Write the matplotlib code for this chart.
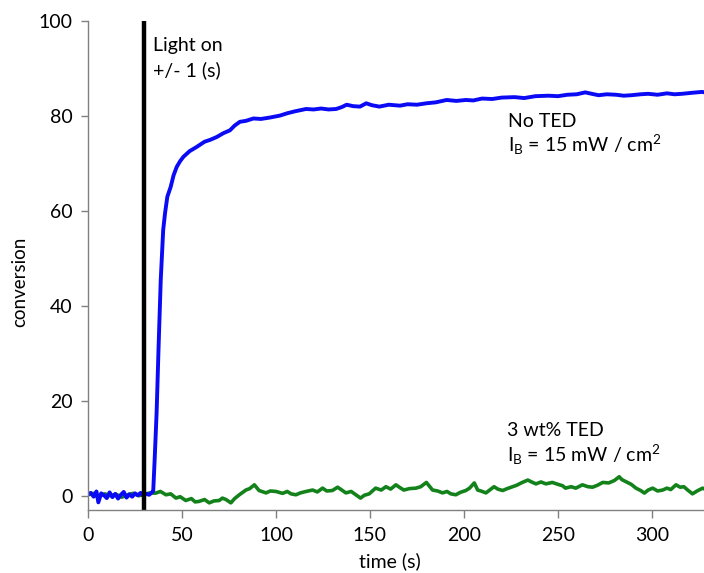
import matplotlib
matplotlib.use("Agg")
import matplotlib.pyplot as plt

plt.rc('font', family=['Lato', 'DejaVu Sans'])
plt.rc('font', size=14)
plt.rc('mathtext', default='regular')

# light switched on at t = 30 s
light_on = 30

# no TED, I_B = 15 mW/cm2
blue_t = [0, 1.5, 3, 4.5, 5.5, 7, 8.5, 10, 11.5, 13, 14.5, 16, 17.5, 19, 20.5,
          22, 23.5, 25, 26.5, 28, 29.5, 31, 32.5, 34, 34.7, 35.5, 36.5, 37.6,
          38.7, 40, 41, 42.2, 44, 45.5, 47.2, 49, 50.7, 54, 57.8, 62, 65, 68.5,
          72, 75.5, 78, 80.8, 84, 88, 92, 96.8, 102, 106, 110, 116, 120, 124,
          128, 132, 135, 137.6, 141, 144.7, 148, 151, 155, 160, 166, 170, 175,
          180, 185, 190.8, 196, 201, 205, 209.6, 215, 220, 227, 232, 238, 245,
          250, 255, 260, 264.5, 268, 271.6, 276, 281, 285, 289, 294, 298, 303,
          308, 312, 316, 321, 326.6, 328]
blue_c = [0.3, 0.6, -0.2, 0.9, -1.4, 0.5, 0.1, -0.5, 0.7, -0.3, 0.4, -0.6, 0.2,
          0.8, -0.4, 0.3, -0.2, 0.5, 0.1, 0.6, 0.0, 0.4, 0.2, 0.7, 1.0, 8.0,
          17.5, 32.0, 45.5, 56.0, 59.6, 63.0, 65.1, 67.5, 69.3, 70.5, 71.4, 72.6,
          73.5, 74.6, 75.0, 75.6, 76.4, 77.0, 78.0, 78.8, 79.0, 79.5, 79.4, 79.7,
          80.1, 80.6, 81.0, 81.5, 81.4, 81.6, 81.4, 81.5, 81.9, 82.4, 82.1, 82.0,
          82.7, 82.3, 82.0, 82.4, 82.2, 82.5, 82.4, 82.7, 82.9, 83.4, 83.2, 83.4,
          83.3, 83.7, 83.6, 83.9, 84.0, 83.8, 84.2, 84.3, 84.2, 84.5, 84.6, 85.0,
          84.7, 84.4, 84.6, 84.5, 84.3, 84.4, 84.6, 84.7, 84.5, 84.8, 84.6, 84.7,
          84.9, 85.1, 85.0]

# 3 wt% TED, I_B = 15 mW/cm2
green_t = [0, 3, 6, 9, 12, 15, 18, 21, 24, 27, 30, 33, 36, 38.5, 41.5, 44, 46.8,
           49, 52, 55, 57, 59, 62, 64.5, 67, 69.8, 71.5, 73.4, 76, 78, 80.5, 84,
           86, 88.5, 91, 94.7, 97, 100, 103.5, 106, 108, 110.6, 113, 116, 119.5,
           122, 124.8, 127, 130, 132.8, 135, 137.2, 140, 142.5, 145, 147, 149.6,
           153, 156, 158.5, 161, 163.8, 166, 168, 171, 174.5, 177, 180, 183.3,
           186, 188.6, 191, 193, 195.7, 198, 201, 203, 205.5, 207.3, 209, 211.7,
           214, 216, 218, 220.6, 223, 225.9, 228, 231, 234, 236, 238.3, 241,
           243.6, 247, 250, 252.5, 254, 257, 259.5, 263, 266, 268.4, 271, 273.8,
           277, 280, 282.6, 284, 286, 289, 291.5, 294, 296, 298, 300.4, 303,
           305.7, 308, 310, 312.8, 315, 317, 319, 321.6, 324, 327, 328]
green_c = [0.2, 0.5, -0.1, 0.4, 0.0, 0.3, -0.3, 0.2, 0.5, 0.0, 0.3, 0.6, 0.55,
           0.9, 0.2, 0.4, -0.5, -0.2, -1.0, -0.6, -1.3, -1.2, -0.8, -1.5, -1.1,
           -1.0, -0.5, -0.8, -1.5, -0.6, 0.2, 1.2, 1.5, 2.3, 1.1, 0.6, 1.0, 0.9,
           0.5, 0.9, 0.4, 0.2, 0.6, 0.9, 1.2, 0.8, 1.6, 1.0, 1.1, 1.8, 1.2, 0.6,
           0.9, 0.2, -0.5, 0.1, 0.4, 1.6, 1.2, 1.9, 1.4, 2.3, 1.7, 1.2, 1.5, 1.6,
           1.9, 2.8, 1.2, 1.0, 0.6, 0.9, 0.4, 0.2, 0.7, 1.1, 1.6, 2.7, 1.2, 1.0,
           0.6, 1.3, 1.9, 1.4, 1.1, 1.5, 1.9, 2.2, 2.8, 3.3, 2.9, 2.5, 2.9, 2.5,
           2.8, 2.4, 2.1, 1.6, 1.9, 1.6, 2.3, 1.9, 1.8, 2.2, 2.8, 2.7, 3.2, 4.0,
           3.4, 3.0, 2.4, 1.6, 1.1, 0.56, 1.2, 1.6, 1.0, 1.2, 1.6, 1.3, 2.3, 1.8,
           1.9, 1.2, 0.4, 1.0, 1.6, 1.4]

fig = plt.figure(figsize=(7.04, 5.73), dpi=100)
ax = fig.add_axes([0.125, 0.110, 0.875, 0.853])

ax.plot(green_t, green_c, color='#13821a', lw=2.6, solid_joinstyle='round')
ax.plot(blue_t, blue_c, color='#0a0af5', lw=2.8, solid_joinstyle='round')
ax.axvline(light_on, color='black', lw=3.2)

ax.set_xlim(0, 327.7)
ax.set_ylim(-3, 100)
ax.set_xticks([0, 50, 100, 150, 200, 250, 300])
ax.set_yticks([0, 20, 40, 60, 80, 100])

for side in ['top', 'right']:
    ax.spines[side].set_visible(False)
for side in ['left', 'bottom']:
    ax.spines[side].set_color('#808080')
    ax.spines[side].set_linewidth(1.0)
ax.tick_params(axis='both', direction='out', color='#808080', width=1.0,
               labelsize=14)
ax.tick_params(axis='y', length=5, pad=6)
ax.tick_params(axis='x', length=6, pad=6)

ax.set_xlabel('time (s)', fontsize=14, va='center')
ax.set_ylabel('conversion', fontsize=13.5, va='center')
ax.xaxis.set_label_coords(0.49, -0.104)
ax.yaxis.set_label_coords(-0.110, 0.466)

ax.text(34.6, 93.7, 'Light on', fontsize=14, va='baseline')
ax.text(34.6, 88.4, '+/- 1 (s)', fontsize=14, va='baseline')
ax.text(223.4, 77.6, 'No TED', fontsize=14, va='baseline')
ax.text(223.4, 72.5, r'I$_\mathregular{B}$ = 15 mW / cm$^\mathregular{2}$',
        fontsize=14, va='baseline')
ax.text(223.0, 12.5, '3 wt% TED', fontsize=14, va='baseline')
ax.text(223.0, 7.2, r'I$_\mathregular{B}$ = 15 mW / cm$^\mathregular{2}$',
        fontsize=14, va='baseline')

fig.savefig('out.png', dpi=100)
